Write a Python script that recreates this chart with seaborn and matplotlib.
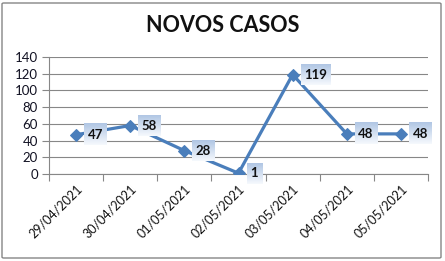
import numpy as np
import pandas as pd
import matplotlib
matplotlib.use("Agg")
import matplotlib.pyplot as plt
import seaborn as sns
from matplotlib.patches import FancyBboxPatch
from matplotlib.colors import LinearSegmentedColormap

dates = ["29/04/2021", "30/04/2021", "01/05/2021", "02/05/2021",
         "03/05/2021", "04/05/2021", "05/05/2021"]
casos = [47, 58, 28, 1, 119, 48, 48]
y_ticks = [0, 20, 40, 60, 80, 100, 120, 140]
title = "NOVOS CASOS"

sns.set_theme(style="white")
plt.rcParams['font.family'] = ['Lato', 'DejaVu Sans']

W, H = 445, 261
fig = plt.figure(figsize=(W / 100, H / 100), dpi=100)
ax = fig.add_axes([49 / W, 1 - 174 / H, (428 - 49) / W, (174 - 57) / H])
ax.set_facecolor("white")

df = pd.DataFrame({"pos": np.arange(len(dates)), "casos": casos})
blue = "#4A7EBB"
sns.lineplot(data=df, x="pos", y="casos", ax=ax, color=blue, linewidth=2.3,
             marker="D", markersize=6.5, markeredgecolor=blue, zorder=3)

ax.set_xlim(-0.5, len(dates) - 0.5)
ax.set_ylim(0, 140)
ax.set_yticks(y_ticks)
ax.set_yticklabels([str(v) for v in y_ticks], fontsize=9.5, color="#111122")
ax.set_xticks(df["pos"])
ax.set_xticklabels(dates, rotation=45, ha="right", rotation_mode="anchor",
                   fontsize=9, color="#111111")
ax.tick_params(axis="x", length=0, pad=6)
ax.tick_params(axis="y", length=5, color="#878787", width=0.8, pad=3, left=True)
ax.set_xticks(np.arange(-0.5, len(dates), 1.0), minor=True)
ax.tick_params(axis="x", which="minor", length=5, color="#878787", width=0.8, bottom=True)
ax.set_xlabel("")
ax.set_ylabel("")
ax.grid(axis="y", color="#878787", linewidth=0.8)
ax.grid(axis="x", visible=False)
ax.set_axisbelow(True)
for s in ["top", "right"]:
    ax.spines[s].set_visible(False)
for s in ["left", "bottom"]:
    ax.spines[s].set_color("#878787")
    ax.spines[s].set_linewidth(0.8)

fig.text(0.5, 1 - 26 / H, title, ha="center", va="center", fontsize=15.5,
         fontweight="bold", color="#111111")

fig.canvas.draw()
inv = ax.transData.inverted()
grad = np.linspace(0, 1, 64).reshape(-1, 1)
cmap = LinearSegmentedColormap.from_list("g", ["#F6F9FD", "#B0C6E4"])
for xp, v in zip(df["pos"], casos):
    px, py = ax.transData.transform((xp, v))
    label = str(v)
    w = 8 + 7.2 * len(label)
    x0, y0 = inv.transform((px + 8, py - 10.5))
    x1, y1 = inv.transform((px + 8 + w, py + 10.5))
    ax.imshow(grad, extent=(x0, x1, y0, y1), origin="lower", cmap=cmap,
              aspect="auto", zorder=4, clip_on=False)
    ax.text((x0 + x1) / 2, (y0 + y1) / 2, label, ha="center", va="center",
            fontsize=9.5, fontweight="bold", color="#111111", zorder=5, clip_on=False)
ax.set_xlim(-0.5, len(dates) - 0.5)
ax.set_ylim(0, 140)

border = FancyBboxPatch((2 / W, 3 / H), 439 / W, 255 / H,
                        boxstyle="round,pad=0,rounding_size=0.004",
                        transform=fig.transFigure, fill=False,
                        edgecolor="#868686", linewidth=1.0)
fig.patches.append(border)

fig.savefig("out.png", dpi=100)
